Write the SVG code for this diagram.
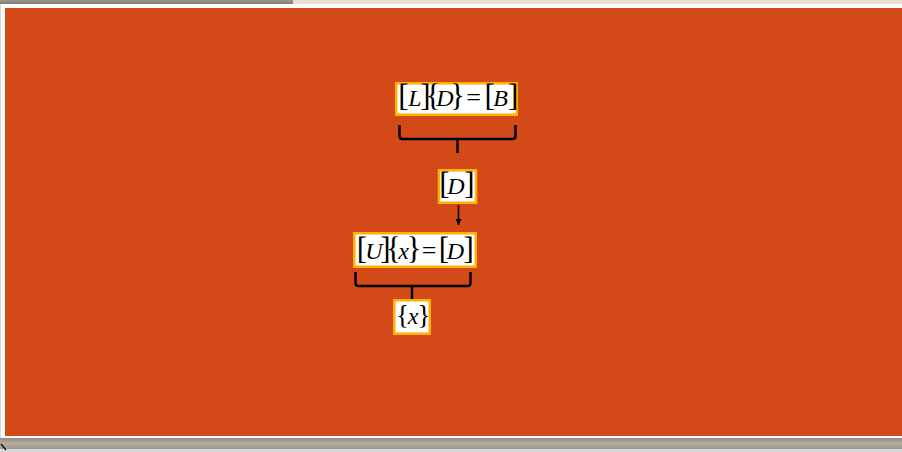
<svg xmlns="http://www.w3.org/2000/svg" width="902" height="452" viewBox="0 0 902 452">
  <defs>
    <style>
      .box { fill: #ffffff; stroke: #FFB000; stroke-width: 2.5; }
      .brace { fill: none; stroke: #000000; stroke-width: 2.5; stroke-linecap: butt; stroke-linejoin: round; }
      .eq { font-family: "Liberation Serif", "Times New Roman", serif; fill: #000000; }
      .br { font-size: 31px; }
      .brs { font-size: 27px; }
      .v { font-size: 24px; font-style: italic; }
      .op { font-size: 26px; }
    </style>
    <linearGradient id="shadowBottom" x1="0" y1="0" x2="0" y2="1">
      <stop offset="0" stop-color="#8E8B83"/>
      <stop offset="0.5" stop-color="#B5AD9C"/>
      <stop offset="1" stop-color="#9C9A94"/>
    </linearGradient>
    <linearGradient id="shadowTop" x1="0" y1="0" x2="0" y2="1">
      <stop offset="0" stop-color="#9A978F"/>
      <stop offset="1" stop-color="#7E7B74"/>
    </linearGradient>
    <marker id="arrowHead" viewBox="0 0 10 10" refX="10" refY="5" markerWidth="4" markerHeight="4" orient="auto" markerUnits="strokeWidth">
      <path d="M0,0 L10,5 L0,10 Z" fill="#000000"/>
    </marker>
  </defs>

  <!-- slide frame -->
  <rect x="0" y="0" width="902" height="452" fill="#D8D8D6"/>
  <rect x="0" y="0" width="902" height="4" fill="#E8DFD0"/>
  <rect x="0" y="0" width="293" height="4" fill="url(#shadowTop)"/>
  <rect x="1" y="4" width="901" height="434" fill="#FFFFFF"/>
  <rect x="0" y="438" width="902" height="11" fill="url(#shadowBottom)"/>
  <path d="M1,444 L6,450" stroke="#000000" stroke-width="1.2"/>
  <rect x="5" y="8" width="897" height="428" fill="#D34A18"/>

  <!-- connectors -->
  <g id="connectors">
    <path class="brace" d="M399.5,125 V136 Q399.5,139 402.5,139 H512.5 Q515.5,139 515.5,136 V125 M457.5,139 V153"/>
    <path d="M458.5,205 V225" stroke="#000000" stroke-width="1.6" marker-end="url(#arrowHead)"/>
    <path class="brace" d="M355.5,272 V283 Q355.5,286 358.5,286 H467.5 Q470.5,286 470.5,283 V272 M412,286 V299"/>
  </g>

  <!-- [L]{D}=[B] -->
  <g id="node-LD-B">
    <rect class="box" x="396.25" y="83.25" width="120.5" height="31.5"/>
    <text class="eq" x="398.3" y="106"><tspan class="br">[</tspan><tspan class="v" dx="-0.3">L</tspan><tspan class="br" dx="-1.4">]</tspan><tspan class="br" dx="-5.1">{</tspan><tspan class="v" dx="-4.1">D</tspan><tspan class="br" dx="-3.6">}</tspan><tspan class="op" dx="1.3">=</tspan><tspan class="br" dx="3.5">[</tspan><tspan class="v" dx="-1.5">B</tspan><tspan class="br">]</tspan></text>
  </g>

  <!-- [D] -->
  <g id="node-D">
    <rect class="box" x="439" y="170.25" width="37" height="32.5"/>
    <text class="eq" x="439.3" y="194"><tspan class="br">[</tspan><tspan class="v" dx="-2.3">D</tspan><tspan class="br" dx="-0.5">]</tspan></text>
  </g>

  <!-- [U]{x}=[D] -->
  <g id="node-Ux-D">
    <rect class="box" x="354.25" y="233.25" width="121.5" height="33.5"/>
    <text class="eq" x="356.8" y="259"><tspan class="br">[</tspan><tspan class="v" dx="-1.8">U</tspan><tspan class="br" dx="-2.4">]</tspan><tspan class="br" dx="-4.5">{</tspan><tspan class="v" dx="-2.8">x</tspan><tspan class="br" dx="-2.3">}</tspan><tspan class="op" dx="0.2">=</tspan><tspan class="br" dx="2.5">[</tspan><tspan class="v" dx="-2.3">D</tspan><tspan class="br" dx="-0.8">]</tspan></text>
  </g>

  <!-- {x} -->
  <g id="node-x">
    <rect class="box" x="394.25" y="300.25" width="35.5" height="33.5"/>
    <text class="eq" x="396" y="324"><tspan class="brs">{</tspan><tspan class="v" dx="-1.3">x</tspan><tspan class="brs" dx="-0.8">}</tspan></text>
  </g>
</svg>
